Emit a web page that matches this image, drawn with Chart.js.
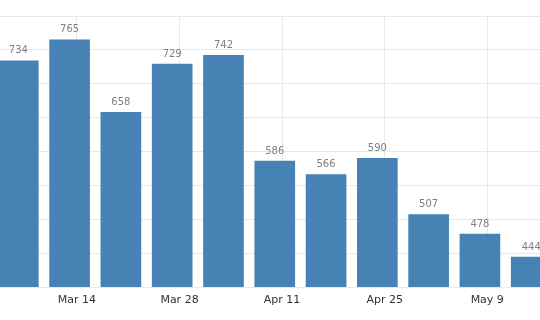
<!DOCTYPE html>
<html>
<head>
<meta charset="utf-8">
<script src="https://cdn.jsdelivr.net/npm/chart.js@4"></script>
<style>
    html, body { margin: 0; padding: 0; background: #fff; }
    #wrap { width: 540px; height: 320px; }
</style>
</head>
<body>
<div id="wrap"><canvas id="weeklyChart"></canvas></div>
<script>
// weekly values (bars are dated on Fridays)
const barDates = ['2020-03-06', '2020-03-13', '2020-03-20', '2020-03-27', '2020-04-03', '2020-04-10',
    '2020-04-17', '2020-04-24', '2020-05-01', '2020-05-08', '2020-05-15'];
const barValues = [734, 765, 658, 729, 742, 586, 566, 590, 507, 478, 444];

// x axis ticks
const tickDates = ['2020-03-14', '2020-03-28', '2020-04-11', '2020-04-25', '2020-05-09'];
const tickLabels = ['Mar 14', 'Mar 28', 'Apr 11', 'Apr 25', 'May 9'];

// y axis range
const yMin = 400;
const yMax = 800;
const yStep = 50;

const dayNum = s => Date.parse(s + 'T00:00:00Z') / 86400000;
const firstTick = dayNum(tickDates[0]);

const valueLabels = {
    id: 'valueLabels',
    afterDatasetsDraw(chart) {
        const ctx = chart.ctx;
        const meta = chart.getDatasetMeta(0);
        ctx.save();
        ctx.font = '10px "DejaVu Sans", sans-serif';
        ctx.fillStyle = '#808080';
        ctx.textAlign = 'center';
        ctx.textBaseline = 'bottom';
        meta.data.forEach((bar, i) => {
            ctx.fillText(String(barValues[i]), bar.x, bar.y - 5);
        });
        ctx.restore();
    }
};

const ctx = document.getElementById('weeklyChart').getContext('2d');
new Chart(ctx, {
    type: 'bar',
    data: {
        datasets: [{
            data: barDates.map((d, i) => ({ x: dayNum(d), y: barValues[i] })),
            backgroundColor: '#4682b4',
            borderWidth: 0,
            barThickness: 40
        }]
    },
    options: {
        responsive: true,
        maintainAspectRatio: false,
        animation: false,
        layout: { padding: { top: 16, left: 0, right: 0, bottom: 0 } },
        plugins: {
            legend: { display: false },
            tooltip: { enabled: false }
        },
        scales: {
            x: {
                type: 'linear',
                offset: false,
                min: firstTick - 10.5,
                max: firstTick + 63.2,
                afterBuildTicks: scale => {
                    scale.ticks = tickDates.map(d => ({ value: dayNum(d) }));
                },
                afterFit: scale => { scale.height = 33; },
                ticks: {
                    autoSkip: false,
                    maxRotation: 0,
                    padding: 7,
                    color: '#333',
                    font: { family: '"DejaVu Sans", sans-serif', size: 11 },
                    callback: value => {
                        const idx = tickDates.findIndex(d => dayNum(d) === value);
                        return idx >= 0 ? tickLabels[idx] : '';
                    }
                },
                grid: { color: '#e8e8e8', drawTicks: false, offset: false },
                border: { display: false }
            },
            y: {
                min: yMin,
                max: yMax,
                afterFit: scale => { scale.width = 0; },
                ticks: { display: false, stepSize: yStep },
                grid: { color: '#e8e8e8', drawTicks: false },
                border: { display: false }
            }
        }
    },
    plugins: [valueLabels]
});
</script>
</body>
</html>
